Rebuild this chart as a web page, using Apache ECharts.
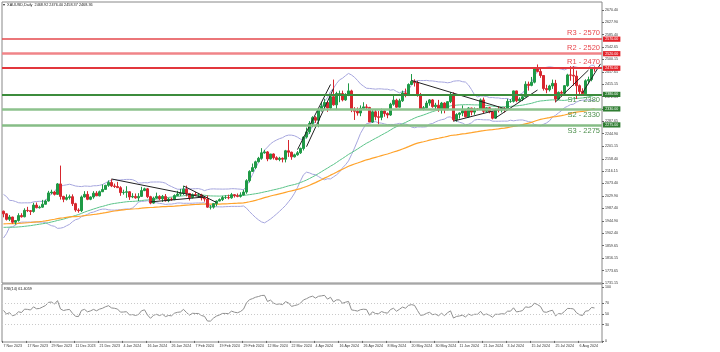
<!DOCTYPE html>
<html>
<head>
<meta charset="utf-8">
<script src="https://cdn.jsdelivr.net/npm/echarts@6/dist/echarts.min.js"></script>
<style>
html, body { margin: 0; padding: 0; background: #fff; }
#chart { width: 720px; height: 352px; }
</style>
</head>
<body>
<div id="chart"></div>
<script>
// daily bars, 7 Nov 2023 .. 13 Aug 2024 (+2 empty slots on the right), broker holidays skipped
const firstDay = '2023-11-07';
const lastDay = '2024-08-15';
const holidays = ['2023-12-25', '2024-01-01', '2024-03-29'];

// [open, high, low, close]
const candles = [
    [1978,1980,1957,1969],[1969,1971,1946,1950],[1950,1965,1944,1958],[1958,1959,1935,1940],[1940,1947,1932,1946],
    [1946,1971,1942,1963],[1963,1971,1956,1959],[1959,1988,1957,1981],[1981,1993,1975,1980],[1980,1982,1965,1977],
    [1977,2007,1973,1999],[1999,2008,1988,1990],[1990,1997,1987,1992],[1992,2017,1990,2002],[2002,2018,2001,2013],
    [2013,2048,2011,2041],[2041,2052,2036,2044],[2044,2048,2032,2036],[2036,2075,2034,2072],[2072,2135,2018,2029],
    [2029,2031,2009,2019],[2019,2036,2015,2025],[2025,2035,2018,2028],[2028,2036,1996,2004],[2004,2007,1976,1982],
    [1982,1988,1973,1980],[1980,2032,1975,2027],[2027,2047,2025,2036],[2036,2047,2016,2019],[2019,2029,2016,2027],
    [2027,2047,2021,2040],[2040,2047,2030,2031],[2031,2049,2029,2045],[2045,2070,2044,2053],[2053,2069,2052,2067],
    [2067,2084,2062,2077],[2077,2088,2061,2065],[2065,2073,2058,2063],[2063,2079,2058,2059],[2059,2064,2031,2042],
    [2042,2052,2035,2043],[2043,2064,2024,2045],[2045,2047,2017,2027],[2027,2040,2023,2029],[2029,2039,2021,2024],
    [2024,2040,2013,2029],[2029,2062,2027,2049],[2049,2059,2047,2055],[2055,2058,2023,2028],[2028,2031,2002,2006],
    [2006,2028,2004,2023],[2023,2042,2021,2029],[2029,2033,2016,2021],[2021,2034,2010,2029],[2029,2037,2011,2014],
    [2014,2024,2009,2020],[2020,2025,2014,2018],[2018,2036,2016,2032],[2032,2048,2030,2037],[2037,2055,2030,2039],
    [2039,2065,2034,2054],[2054,2066,2029,2039],[2039,2041,2015,2025],[2025,2039,2022,2035],[2035,2044,2030,2034],
    [2034,2041,2026,2034],[2034,2038,2015,2024],[2024,2027,2011,2020],[2020,2032,1990,1992],[1992,1999,1984,1992],
    [1992,2006,1987,2004],[2004,2015,1995,2013],[2013,2022,2012,2018],[2018,2031,2013,2025],[2025,2033,2020,2025],
    [2025,2035,2019,2024],[2024,2041,2021,2035],[2035,2037,2025,2031],[2031,2039,2026,2029],[2029,2043,2025,2034],
    [2034,2052,2032,2044],[2044,2088,2038,2083],[2083,2119,2077,2115],[2115,2142,2114,2128],[2128,2152,2123,2148],
    [2148,2165,2146,2160],[2160,2195,2155,2179],[2179,2189,2176,2182],[2182,2185,2150,2158],[2158,2175,2156,2175],
    [2175,2177,2156,2162],[2162,2167,2153,2156],[2156,2165,2150,2160],[2160,2163,2146,2157],[2157,2189,2146,2186],
    [2186,2223,2165,2181],[2181,2183,2155,2165],[2165,2176,2163,2172],[2172,2185,2169,2179],[2179,2197,2175,2194],
    [2194,2236,2187,2233],[2233,2266,2228,2251],[2251,2288,2244,2280],[2280,2305,2267,2300],[2300,2305,2282,2291],
    [2291,2331,2267,2329],[2329,2354,2321,2339],[2339,2365,2331,2352],[2352,2355,2320,2333],[2333,2376,2327,2372],
    [2372,2431,2341,2344],[2344,2389,2326,2383],[2383,2393,2353,2383],[2383,2393,2356,2361],[2361,2384,2358,2379],
    [2379,2418,2374,2392],[2392,2396,2319,2327],[2327,2336,2292,2322],[2322,2335,2307,2316],[2316,2342,2305,2332],
    [2332,2353,2326,2337],[2337,2346,2326,2335],[2335,2337,2285,2285],[2285,2326,2282,2320],[2320,2326,2291,2303],
    [2303,2323,2277,2301],[2301,2331,2291,2323],[2323,2326,2303,2314],[2314,2318,2298,2309],[2309,2351,2306,2346],
    [2346,2378,2341,2360],[2360,2365,2334,2336],[2336,2365,2335,2358],[2358,2393,2354,2385],[2385,2400,2370,2376],
    [2376,2418,2375,2414],[2414,2450,2413,2425],[2425,2432,2407,2420],[2420,2427,2372,2379],[2379,2385,2326,2329],
    [2329,2340,2325,2334],[2334,2358,2332,2350],[2350,2364,2341,2361],[2361,2364,2334,2338],[2338,2351,2327,2343],
    [2343,2361,2320,2327],[2327,2354,2314,2350],[2350,2353,2315,2327],[2327,2356,2326,2355],[2355,2388,2350,2376],
    [2376,2387,2287,2293],[2293,2315,2286,2311],[2311,2318,2297,2316],[2316,2342,2305,2324],[2324,2328,2301,2303],
    [2303,2336,2300,2333],[2333,2334,2308,2319],[2319,2335,2310,2330],[2330,2333,2324,2329],[2329,2366,2327,2361],
    [2361,2369,2316,2322],[2322,2335,2319,2334],[2334,2337,2315,2320],[2320,2323,2294,2298],[2298,2331,2296,2327],
    [2327,2339,2318,2326],[2326,2336,2318,2332],[2332,2336,2318,2330],[2330,2365,2326,2356],[2356,2364,2351,2356],
    [2356,2393,2352,2392],[2392,2393,2353,2358],[2358,2370,2355,2364],[2364,2375,2357,2372],[2372,2425,2370,2415],
    [2415,2424,2393,2411],[2411,2440,2408,2422],[2422,2469,2418,2469],[2469,2483,2456,2459],[2459,2470,2437,2445],
    [2445,2446,2393,2400],[2400,2413,2384,2396],[2396,2413,2390,2409],[2409,2431,2399,2418],[2418,2430,2353,2364],
    [2364,2390,2362,2387],[2387,2393,2372,2384],[2384,2412,2380,2410],[2410,2451,2406,2447],[2447,2477,2427,2446],
    [2446,2477,2410,2443],[2443,2462,2364,2410],[2410,2414,2381,2390],[2390,2401,2377,2382],[2382,2432,2380,2427],
    [2427,2441,2415,2431],[2431,2474,2425,2472],[2469,2476,2458,2468]
];

// closes before the visible window, only used to warm up the indicators
const priorCloses = [
    1977,1948,1961,1963,1940,1965,1961,1957,1944,1942,1958,1958,1951,1936,1932,1913,1921,1923,1913,1907,1908,1919,
    1921,1925,1915,1911,1925,1925,1932,1957,1961,1955,1955,1979,1977,1970,1962,1954,1965,1972,1946,1959,1965,
    1944,1934,1934,1943,1937,1925,1915,1912,1914,1907,1901,1891,1889,1889,1895,1897,1915,1917,1914,1920,1937,1942,1940,
    1940,1939,1926,1916,1920,1919,1922,1913,1908,1910,1924,1934,1931,1930,1920,1925,1916,1901,1875,1864,1848,
    1827,1822,1822,1820,1833,1862,1861,1874,1868,1932,1920,1923,1947,1974,1981,1973,1970,1979,1984,2006,1996,1983,
    1982,1985,1992,1978
];

const yTicks = [2670.40, 2627.90, 2585.40, 2542.65, 2500.15, 2457.65, 2415.15, 2372.65, 2330.15, 2287.65, 2244.90,
    2201.15, 2158.40, 2116.15, 2073.40, 2029.90, 1987.40, 1944.90, 1902.40, 1859.65, 1816.15, 1773.65, 1731.15];
const rsiTicks = [0, 30, 50, 70, 100];
const rsiLevels = [70, 50, 30];

const levelNames = ['R3', 'R2', 'R1', 'S1', 'S2', 'S3'];
const levelValues = [2570, 2520, 2470, 2380, 2330, 2275];

// hand drawn trend lines: [bar index, price] pairs
const trendLines = [
    [[36, 2089], [67, 2025]],
    [[49, 2010], [67, 2027]],
    [[60, 2065], [71, 2008]],
    [[98, 2190], [109, 2414]],
    [[101, 2200], [110, 2400]],
    [[136, 2428], [168, 2328]],
    [[150, 2288], [167, 2333]],
    [[164, 2299], [178, 2395]],
    [[184, 2354], [195, 2464]],
    [[193, 2385], [199, 2485]]
];

const titleText = '\u25BE  XAUUSD,Daily  2468.92 2476.40 2458.37 2468.36';
const rsiText = 'RSI(14) 61.4059';

const months = ['Jan','Feb','Mar','Apr','May','Jun','Jul','Aug','Sep','Oct','Nov','Dec'];

function makeDates() {
    let out = [];
    let d = new Date(firstDay + 'T00:00:00Z');
    let end = new Date(lastDay + 'T00:00:00Z');
    while (d <= end) {
        let iso = d.toISOString().slice(0, 10);
        let dow = d.getUTCDay();
        if (dow != 0 && dow != 6 && holidays.indexOf(iso) == -1) {
            out.push(d.getUTCDate() + ' ' + months[d.getUTCMonth()] + ' ' + d.getUTCFullYear());
        }
        d.setUTCDate(d.getUTCDate() + 1);
    }
    return out;
}

const closes = candles.map(c => c[3]);
const all = priorCloses.concat(closes);
const off = priorCloses.length;

function sma(n) {
    return closes.map((_, i) => {
        let s = 0;
        for (let k = i + off - n + 1; k <= i + off; k++) s += all[k];
        return +(s / n).toFixed(2);
    });
}

function bands(n, dev) {
    let up = [], lo = [];
    for (let i = 0; i < closes.length; i++) {
        let s = 0, q = 0;
        for (let k = i + off - n + 1; k <= i + off; k++) s += all[k];
        let m = s / n;
        for (let k = i + off - n + 1; k <= i + off; k++) q += (all[k] - m) * (all[k] - m);
        let sd = Math.sqrt(q / n);
        up.push(+(m + dev * sd).toFixed(2));
        lo.push(+(m - dev * sd).toFixed(2));
    }
    return [up, lo];
}

function ema(n) {
    let a = 2 / (n + 1), e = all[0], out = [];
    for (let k = 1; k < all.length; k++) {
        e += (all[k] - e) * a;
        if (k >= off) out.push(+e.toFixed(2));
    }
    return out;
}

function rsi(n) {
    let g = 0, l = 0, out = [];
    for (let k = 1; k <= n; k++) {
        let d = all[k] - all[k - 1];
        if (d > 0) g += d; else l -= d;
    }
    g /= n; l /= n;
    for (let k = n + 1; k < all.length; k++) {
        let d = all[k] - all[k - 1];
        g = (g * (n - 1) + Math.max(d, 0)) / n;
        l = (l * (n - 1) + Math.max(-d, 0)) / n;
        if (k >= off) out.push(l == 0 ? 100 : +(100 - 100 / (1 + g / l)).toFixed(2));
    }
    return out;
}

const dates = makeDates();
const bb = bands(20, 2);
const font = 'Liberation Sans';

let levelLines = [], levelTags = [];
levelNames.forEach((name, i) => {
    let isR = name[0] == 'R';
    let color = isR ? ['#e5484d', '#f08488', '#e2363c'][i] : ['#3c8c3c', '#8dc28d', '#86bd86'][i - 3];
    let width = isR ? [1.5, 2.5, 2][i] : [2, 2.5, 2.5][i - 3];
    levelLines.push({
        yAxis: levelValues[i],
        lineStyle: { color: color, width: width, type: 'solid' },
        label: {
            show: true,
            position: isR ? 'insideEndTop' : 'insideEndBottom',
            distance: [2, 2],
            formatter: name + ' - ' + levelValues[i],
            color: isR ? '#e8474d' : '#4d8f4d',
            fontSize: 7.5,
            fontFamily: font
        }
    });
    // price tag on the axis
    levelTags.push({
        yAxis: levelValues[i],
        label: {
            formatter: levelValues[i].toFixed(2),
            backgroundColor: isR ? '#e3242b' : '#2f7d32'
        }
    });
});

let series = [
    {
        type: 'line', name: 'bbUp', data: bb[0], symbol: 'none', silent: true, z: 2,
        lineStyle: { color: '#a6a6de', width: 1 }
    },
    {
        type: 'line', name: 'bbLo', data: bb[1], symbol: 'none', silent: true, z: 2,
        lineStyle: { color: '#a6a6de', width: 1 }
    },
    {
        type: 'line', name: 'sma50', data: sma(50), symbol: 'none', silent: true, z: 2,
        lineStyle: { color: '#5cc48a', width: 1 },
        markLine: {
            silent: true, symbol: 'none', animation: false,
            lineStyle: { color: 'rgba(0,0,0,0)', width: 0 },
            label: {
                show: true, position: 'end', distance: 1, color: '#fff',
                padding: [0.6, 2.2], fontSize: 3.6, fontFamily: font
            },
            data: levelTags
        }
    },
    {
        type: 'line', name: 'ema100', data: ema(100), symbol: 'none', silent: true, z: 2,
        lineStyle: { color: '#ffa32b', width: 1.2 }
    },
    {
        type: 'candlestick',
        data: candles.map(c => [c[0], c[3], c[2], c[1]]),
        barWidth: 2,
        z: 3,
        itemStyle: {
            color: '#1f9a46', color0: '#d7262e',
            borderColor: '#1f9a46', borderColor0: '#d7262e', borderWidth: 1
        },
        markLine: {
            silent: true, symbol: 'none', animation: false,
            data: levelLines
        }
    },
    {
        type: 'line', name: 'rsi', xAxisIndex: 1, yAxisIndex: 1, data: rsi(14), symbol: 'none', silent: true,
        lineStyle: { color: '#8e8e8e', width: 1 },
        markLine: {
            silent: true, symbol: 'none', animation: false, label: { show: false },
            lineStyle: { color: '#c9c9c9', width: 1, type: [1, 2] },
            data: rsiLevels.map(v => ({ yAxis: v }))
        }
    }
];

trendLines.forEach(t => {
    series.push({
        type: 'line', data: t, symbol: 'none', silent: true, z: 4,
        lineStyle: { color: '#222', width: 1 }
    });
});

echarts.init(document.getElementById('chart')).setOption({
    animation: false,
    textStyle: { fontFamily: font },
    grid: [
        { left: 2, right: 118, top: 2, height: 281, show: true, borderColor: '#888', borderWidth: 1 },
        { left: 2, right: 118, top: 284, height: 58, show: true, borderColor: '#888', borderWidth: 1 }
    ],
    graphic: [
        { type: 'text', left: 3, top: 3, style: { text: titleText, fontSize: 3.8, fill: '#222', fontFamily: font } },
        { type: 'text', left: 4, top: 287, style: { text: rsiText, fontSize: 3.8, fill: '#222', fontFamily: font } }
    ],
    xAxis: [
        {
            type: 'category', gridIndex: 0, data: dates,
            axisLine: { show: false }, axisTick: { show: false }, axisLabel: { show: false }
        },
        {
            type: 'category', gridIndex: 1, data: dates,
            axisLine: { show: false },
            axisTick: { show: true, interval: 7, length: 2, lineStyle: { color: '#666' } },
            axisLabel: { interval: 7, fontSize: 3.6, color: '#333', align: 'left', margin: 2 }
        }
    ],
    yAxis: [
        {
            type: 'value', gridIndex: 0, position: 'right', min: 1731, max: 2697.9,
            splitLine: { show: false }, axisLine: { show: false },
            axisTick: { show: true, customValues: yTicks, length: 2, lineStyle: { color: '#666' } },
            axisLabel: {
                customValues: yTicks, fontSize: 3.6, color: '#333', margin: 3,
                formatter: v => v.toFixed(2)
            }
        },
        {
            type: 'value', gridIndex: 1, position: 'right', min: -2, max: 105.5,
            splitLine: { show: false }, axisLine: { show: false },
            axisTick: { show: true, customValues: rsiTicks, length: 2, lineStyle: { color: '#666' } },
            axisLabel: { customValues: rsiTicks, fontSize: 3.6, color: '#333', margin: 3 }
        }
    ],
    series: series
});
</script>
</body>
</html>
